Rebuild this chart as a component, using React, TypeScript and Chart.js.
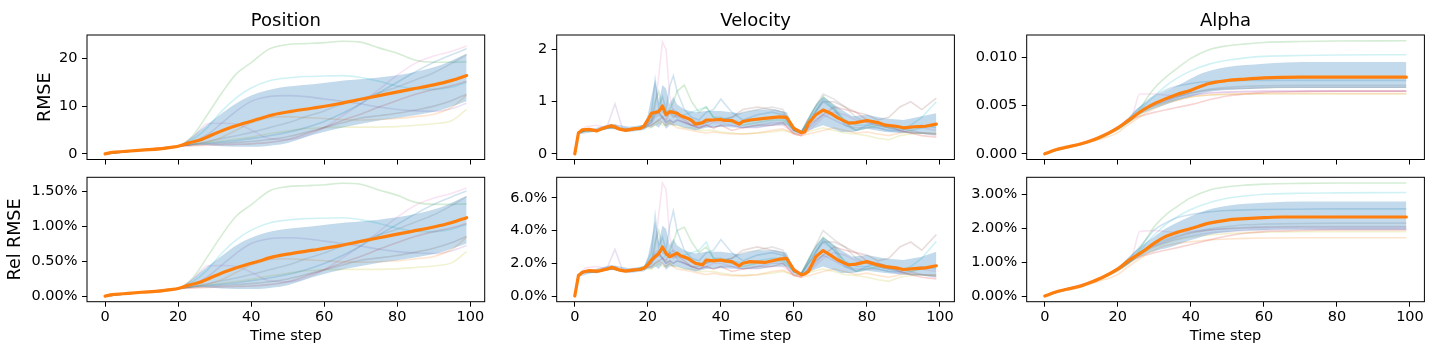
import React, { useEffect, useRef } from 'react';
import { Chart, registerables } from 'chart.js';
Chart.register(...registerables);

const FONT = "'DejaVu Sans', 'Liberation Sans', sans-serif";
// tab10 order: blue, orange, green, red, purple, brown, pink, gray, olive, cyan
const LINE_COLORS = ['31,119,180', '255,127,14', '44,160,44', '214,39,40', '148,103,189', '140,86,75', '227,119,194', '127,127,127', '188,189,34', '23,190,207'];

const X_TICKS_STEP = 20;

// ---------------- Position ----------------
const posMeanT = [0, 2, 5, 10, 15, 18, 20, 23, 26, 30, 34, 38, 42, 46, 51, 57, 64, 70, 77, 84, 90, 95, 99];
const posMean = [0, 0.3, 0.5, 0.8, 1.05, 1.35, 1.6, 2.3, 2.9, 4.2, 5.4, 6.4, 7.3, 8.2, 8.9, 9.6, 10.5, 11.45, 12.5, 13.55, 14.45, 15.4, 16.4];
const posRelMean = [0, 0.021, 0.034, 0.055, 0.072, 0.092, 0.109, 0.157, 0.198, 0.287, 0.369, 0.438, 0.499, 0.561, 0.609, 0.657, 0.718, 0.783, 0.855, 0.927, 0.988, 1.053, 1.122];
const posBandT = [0, 10, 20, 23, 26, 30, 34, 38, 42, 46, 50, 57, 66, 75, 84, 92, 99];
const posBandHi = [0, 0.85, 1.7, 3.0, 5.0, 7.3, 9.6, 11.5, 12.8, 13.6, 14.1, 14.6, 15.4, 16.0, 17.0, 18.6, 21.0];
const posBandLo = [0, 0.75, 1.5, 1.7, 1.9, 1.7, 1.55, 1.5, 1.5, 1.8, 2.3, 4.0, 5.7, 7.0, 8.0, 9.2, 11.0];
const posRelBandHi = [0, 0.058, 0.116, 0.205, 0.342, 0.499, 0.657, 0.787, 0.876, 0.930, 0.964, 0.999, 1.053, 1.094, 1.163, 1.272, 1.436];
const posRelBandLo = [0, 0.051, 0.103, 0.116, 0.130, 0.116, 0.106, 0.103, 0.103, 0.123, 0.157, 0.274, 0.390, 0.479, 0.547, 0.629, 0.752];
const posLineT = [0, 10, 20, 24, 28, 32, 36, 40, 45, 50, 55, 60, 65, 70, 75, 80, 85, 90, 95, 99];
const posLines = [
  [0, .8, 1.6, 2, 2.2, 2.5, 2.8, 3.2, 3.8, 4.5, 5.5, 6.8, 8.5, 10.5, 12.8, 15, 17.2, 19.2, 20.8, 22],
  [0, .8, 1.6, 2, 2.5, 3.5, 5, 6.5, 7.6, 7.8, 7.6, 7.4, 7.2, 7.1, 7.2, 7.4, 7.8, 8.3, 9.8, 12.3],
  [0, .8, 1.6, 3.8, 8.2, 12.8, 16.8, 19.1, 22, 22.9, 23.1, 23.3, 23.6, 23.4, 22.2, 21.1, 19.6, 19.2, 19.2, 19.3],
  [0, .8, 1.6, 1.7, 1.8, 1.9, 2, 2.1, 2.4, 3, 4.2, 5.5, 7, 8.3, 9.8, 11.2, 12.5, 13.5, 14.3, 15.2],
  [0, .8, 1.6, 2.5, 4, 6.5, 9, 11, 12, 12.2, 12, 11.5, 11, 10.5, 9.8, 9.3, 9, 8.9, 9.5, 10.6],
  [0, .8, 1.6, 1.8, 2, 2.2, 2.4, 2.6, 3, 3.6, 4.5, 5.5, 6.5, 7.5, 8, 8.5, 9.2, 10, 11.2, 12.5],
  [0, .8, 1.6, 3.5, 6.3, 6.4, 6.2, 5, 3.2, 3, 3.8, 5.5, 8, 10.5, 13.5, 16.5, 19, 20.5, 21.5, 22.6],
  [0, .8, 1.6, 2, 2.6, 3.2, 3.8, 4.5, 5.5, 6.5, 7.8, 9, 10.5, 11.5, 12.8, 14, 15.5, 17, 19, 20.8],
  [0, .8, 1.6, 2, 2.3, 2.7, 3.1, 3.5, 4.2, 4.8, 5.3, 5.5, 5.6, 5.6, 5.6, 5.7, 6, 6.3, 7, 9.3],
  [0, .8, 1.6, 3, 5.5, 9, 11.8, 13.8, 15.3, 15.9, 16.2, 16.3, 16.4, 16, 15.2, 14.2, 13.6, 13.5, 14, 15],
];
const posRelLines = [
  [0, .055, .109, .137, .15, .171, .192, .219, .26, .308, .376, .465, .581, .718, .876, 1.026, 1.176, 1.313, 1.423, 1.505],
  [0, .055, .109, .137, .171, .239, .342, .445, .52, .534, .52, .506, .492, .486, .492, .506, .534, .568, .67, .841],
  [0, .055, .109, .26, .561, .876, 1.149, 1.306, 1.505, 1.566, 1.58, 1.594, 1.614, 1.601, 1.518, 1.443, 1.341, 1.313, 1.313, 1.32],
  [0, .055, .109, .116, .123, .13, .137, .144, .164, .205, .287, .376, .479, .568, .67, .766, .855, .923, .978, 1.04],
  [0, .055, .109, .171, .274, .445, .616, .752, .821, .834, .821, .787, .752, .718, .67, .636, .616, .609, .65, .725],
  [0, .055, .109, .123, .137, .15, .164, .178, .205, .246, .308, .376, .445, .513, .547, .581, .629, .684, .766, .855],
  [0, .055, .109, .239, .431, .438, .424, .342, .219, .205, .26, .376, .547, .718, .923, 1.129, 1.3, 1.402, 1.471, 1.546],
  [0, .055, .109, .137, .178, .219, .26, .308, .376, .445, .534, .616, .718, .787, .876, .958, 1.06, 1.163, 1.3, 1.423],
  [0, .055, .109, .137, .157, .185, .212, .239, .287, .328, .363, .376, .383, .383, .383, .39, .41, .431, .479, .636],
  [0, .055, .109, .205, .376, .616, .807, .944, 1.047, 1.088, 1.108, 1.115, 1.122, 1.094, 1.04, .971, .93, .923, .958, 1.026],
];

// ---------------- Velocity ----------------
const velMeanT = [0, 1, 2, 4, 6, 7, 9, 10, 12, 14, 16, 18, 19, 20, 21, 23, 24, 25, 26, 28, 29, 31, 32, 33, 35, 36, 38, 40, 41, 43, 45, 46, 48, 52, 56, 58, 60, 62, 63, 64, 66, 68, 70, 72, 75, 77, 80, 83, 85, 88, 90, 93, 96, 99];
const velMean = [0, 0.40, 0.46, 0.47, 0.44, 0.47, 0.52, 0.54, 0.48, 0.45, 0.48, 0.49, 0.54, 0.65, 0.78, 0.81, 0.92, 0.75, 0.81, 0.78, 0.73, 0.68, 0.64, 0.57, 0.60, 0.65, 0.65, 0.66, 0.64, 0.64, 0.57, 0.62, 0.65, 0.68, 0.71, 0.70, 0.49, 0.41, 0.42, 0.59, 0.75, 0.84, 0.78, 0.69, 0.59, 0.60, 0.64, 0.60, 0.55, 0.53, 0.50, 0.52, 0.53, 0.57];
const velRelMean = [0, 1.24, 1.45, 1.55, 1.52, 1.55, 1.65, 1.75, 1.6, 1.52, 1.6, 1.62, 1.72, 1.9, 2.2, 2.6, 3.0, 2.6, 2.4, 2.62, 2.46, 2.3, 2.15, 2.0, 1.9, 2.2, 2.15, 2.2, 2.15, 2.1, 1.84, 2.0, 2.1, 2.05, 2.25, 2.3, 1.6, 1.3, 1.35, 1.5, 2.4, 2.78, 2.5, 2.2, 1.9, 1.95, 2.1, 1.9, 1.8, 1.72, 1.62, 1.68, 1.72, 1.85];
const velBandT = [0, 1, 5, 10, 15, 19, 20, 21, 22, 23, 24, 25, 26, 27, 28, 30, 33, 36, 40, 45, 50, 55, 58, 60, 62, 64, 66, 68, 70, 73, 76, 80, 85, 90, 95, 99];
const velBandHi = [0, 0.43, 0.48, 0.58, 0.52, 0.56, 0.75, 1.1, 1.42, 1.0, 1.32, 1.25, 0.95, 1.1, 0.95, 0.85, 0.8, 0.82, 0.82, 0.78, 0.85, 0.85, 0.8, 0.52, 0.45, 0.7, 0.95, 1.1, 1.0, 0.85, 0.72, 0.75, 0.68, 0.65, 0.72, 0.78];
const velBandLo = [0, 0.37, 0.42, 0.48, 0.42, 0.46, 0.52, 0.5, 0.55, 0.5, 0.6, 0.48, 0.55, 0.55, 0.55, 0.5, 0.45, 0.5, 0.52, 0.5, 0.5, 0.55, 0.55, 0.42, 0.38, 0.45, 0.5, 0.55, 0.5, 0.42, 0.42, 0.48, 0.42, 0.4, 0.38, 0.36];
const velRelBandHi = [0, 1.32, 1.62, 1.9, 1.7, 1.82, 2.4, 3.4, 4.6, 3.3, 4.3, 4.1, 3.1, 3.5, 3.1, 2.8, 2.6, 2.7, 2.7, 2.55, 2.8, 2.8, 2.65, 1.7, 1.45, 2.3, 3.1, 3.6, 3.3, 2.8, 2.4, 2.5, 2.3, 2.2, 2.4, 2.7];
const velRelBandLo = [0, 1.18, 1.42, 1.6, 1.4, 1.52, 1.7, 1.65, 1.8, 1.65, 1.95, 1.6, 1.8, 1.8, 1.8, 1.65, 1.5, 1.65, 1.7, 1.65, 1.65, 1.8, 1.8, 1.38, 1.22, 1.45, 1.65, 1.8, 1.65, 1.4, 1.4, 1.55, 1.4, 1.3, 1.25, 1.15];
const velLineT = [0, 1, 3, 6, 9, 11, 13, 16, 19, 21, 22, 23, 24, 25, 26, 27, 28, 30, 32, 34, 36, 38, 40, 43, 46, 50, 54, 57, 60, 62, 65, 68, 71, 74, 77, 80, 83, 86, 89, 92, 95, 99];
const velLines = [
  [0, .40, .45, .44, .50, .50, .46, .47, .52, .80, 1.42, .90, 1.1, .85, 1.3, 1.5, 1.2, .85, .70, .65, .80, .85, 1.05, .80, .65, .75, .80, .75, .45, .40, .70, 1.05, .85, .55, .45, .55, .60, .55, .50, .50, .55, .50],
  [0, .40, .45, .44, .50, .52, .46, .47, .52, .55, .60, .65, .60, .55, .60, .55, .50, .48, .45, .42, .40, .42, .40, .38, .38, .40, .45, .48, .38, .35, .40, .45, .50, .45, .40, .42, .38, .35, .40, .42, .40, .38],
  [0, .40, .45, .45, .50, .52, .46, .48, .55, .65, 1.0, 1.2, .85, .80, .85, 1.0, 1.2, 1.32, 1.0, .80, .90, .70, .65, .60, .55, .60, .65, .65, .45, .40, .80, 1.1, .90, .60, .45, .50, .55, .50, .50, .45, .50, .55],
  [0, .40, .46, .46, .52, .55, .46, .48, .52, .65, .75, .80, .70, .65, .80, .70, .75, .65, .55, .50, .55, .50, .55, .45, .50, .55, .55, .60, .38, .35, .60, .75, .90, .85, .80, .65, .60, .55, .45, .40, .35, .32],
  [0, .40, .46, .45, .55, .96, .50, .47, .52, .60, .70, .75, .70, .60, .65, .60, .65, .60, .55, .50, .55, .50, .55, .55, .50, .55, .60, .60, .40, .38, .55, .75, .65, .55, .50, .50, .50, .45, .42, .45, .40, .35],
  [0, .40, .45, .43, .50, .50, .45, .46, .50, .55, .60, .65, .70, .60, .65, .60, .65, .60, .55, .55, .60, .65, .65, .70, .85, .90, .85, .80, .45, .42, .70, 1.0, 1.0, .90, .80, .75, .65, .70, .90, 1.0, .85, 1.07],
  [0, .40, .52, .55, .50, .55, .45, .47, .50, .60, .90, 1.5, 2.15, 2.0, 1.1, .80, .70, .60, .55, .50, .55, .60, .60, .55, .50, .50, .55, .55, .40, .35, .50, .70, .80, .75, .65, .60, .55, .50, .45, .50, .50, .45],
  [0, .40, .46, .44, .52, .52, .46, .48, .54, .70, .80, .85, .80, .75, .80, .85, .80, .70, .65, .60, .60, .65, .65, .70, .80, .85, .90, .85, .45, .42, .80, 1.15, 1.05, .90, .70, .60, .55, .50, .45, .40, .40, .38],
  [0, .40, .45, .44, .50, .50, .45, .47, .50, .50, .55, .60, .55, .55, .60, .55, .55, .50, .50, .45, .45, .45, .42, .40, .38, .40, .42, .45, .40, .40, .45, .50, .45, .40, .38, .35, .30, .27, .35, .38, .40, .40],
  [0, .40, .45, .44, .50, .50, .45, .47, .50, .60, .75, .80, .70, .75, .80, .75, .70, .75, .80, .85, .90, .70, .70, .65, .60, .65, .70, .70, .45, .40, .75, 1.0, .85, .65, .55, .55, .50, .45, .45, .55, .70, 1.0],
];
const velRelLines = [
  [0, 1.3, 1.5, 1.45, 1.65, 1.65, 1.52, 1.55, 1.72, 2.65, 4.9, 3.0, 3.6, 2.8, 4.3, 5.2, 4.0, 2.8, 2.3, 2.15, 2.65, 2.8, 3.45, 2.65, 2.15, 2.5, 2.65, 2.5, 1.5, 1.3, 2.3, 3.45, 2.8, 1.8, 1.5, 1.8, 2.0, 1.8, 1.65, 1.65, 1.8, 1.65],
  [0, 1.3, 1.5, 1.45, 1.65, 1.72, 1.52, 1.55, 1.72, 1.8, 2.0, 2.15, 2.0, 1.8, 2.0, 1.8, 1.65, 1.58, 1.5, 1.4, 1.3, 1.4, 1.3, 1.25, 1.25, 1.3, 1.5, 1.58, 1.25, 1.15, 1.3, 1.5, 1.65, 1.5, 1.3, 1.4, 1.25, 1.15, 1.3, 1.4, 1.3, 1.25],
  [0, 1.3, 1.5, 1.5, 1.65, 1.72, 1.52, 1.58, 1.8, 2.15, 3.3, 4.0, 2.8, 2.65, 2.8, 3.3, 4.0, 4.2, 3.3, 2.65, 3.0, 2.3, 2.15, 2.0, 1.8, 2.0, 2.15, 2.15, 1.5, 1.3, 2.65, 3.6, 3.0, 2.0, 1.5, 1.65, 1.8, 1.65, 1.65, 1.5, 1.65, 1.8],
  [0, 1.3, 1.52, 1.52, 1.72, 1.8, 1.52, 1.58, 1.72, 2.15, 2.5, 2.65, 2.3, 2.15, 2.65, 2.3, 2.5, 2.15, 1.8, 1.65, 1.8, 1.65, 1.8, 1.5, 1.65, 1.8, 1.8, 2.0, 1.25, 1.15, 2.0, 2.5, 3.0, 2.8, 2.65, 2.15, 2.0, 1.8, 1.5, 1.3, 1.15, 1.05],
  [0, 1.3, 1.52, 1.5, 1.8, 2.85, 1.65, 1.55, 1.72, 2.0, 2.3, 2.5, 2.3, 2.0, 2.15, 2.0, 2.15, 2.0, 1.8, 1.65, 1.8, 1.65, 1.8, 1.8, 1.65, 1.8, 2.0, 2.0, 1.3, 1.25, 1.8, 2.5, 2.15, 1.8, 1.65, 1.65, 1.65, 1.5, 1.4, 1.5, 1.3, 1.15],
  [0, 1.3, 1.5, 1.42, 1.65, 1.65, 1.5, 1.52, 1.65, 1.8, 2.0, 2.15, 2.3, 2.0, 2.15, 2.0, 2.15, 2.0, 1.8, 1.8, 2.0, 2.15, 2.15, 2.3, 2.8, 3.0, 2.8, 2.65, 1.5, 1.4, 2.3, 3.3, 3.3, 3.0, 2.65, 2.5, 2.15, 2.3, 3.0, 3.3, 2.8, 3.75],
  [0, 1.3, 1.72, 1.8, 1.65, 1.8, 1.5, 1.55, 1.65, 2.0, 3.0, 5.0, 6.9, 6.5, 3.6, 2.65, 2.3, 2.0, 1.8, 1.65, 1.8, 2.0, 2.0, 1.8, 1.65, 1.65, 1.8, 1.8, 1.3, 1.15, 1.65, 2.3, 2.65, 2.5, 2.15, 2.0, 1.8, 1.65, 1.5, 1.65, 1.65, 1.5],
  [0, 1.3, 1.52, 1.45, 1.72, 1.72, 1.52, 1.58, 1.78, 2.3, 2.65, 2.8, 2.65, 2.5, 2.65, 2.8, 2.65, 2.3, 2.15, 2.0, 2.0, 2.15, 2.15, 2.3, 2.65, 2.8, 3.0, 2.8, 1.5, 1.4, 2.65, 4.0, 3.45, 3.0, 2.3, 2.0, 1.8, 1.65, 1.5, 1.3, 1.3, 1.25],
  [0, 1.3, 1.5, 1.45, 1.65, 1.65, 1.5, 1.55, 1.65, 1.65, 1.8, 2.0, 1.8, 1.8, 2.0, 1.8, 1.8, 1.65, 1.65, 1.5, 1.5, 1.5, 1.4, 1.3, 1.25, 1.3, 1.4, 1.5, 1.3, 1.3, 1.5, 1.65, 1.5, 1.3, 1.25, 1.15, 1.0, 0.9, 1.15, 1.25, 1.3, 1.3],
  [0, 1.3, 1.5, 1.45, 1.65, 1.65, 1.5, 1.55, 1.65, 2.0, 2.5, 2.65, 2.3, 2.5, 2.65, 2.5, 2.3, 2.5, 2.65, 2.8, 3.3, 2.3, 2.3, 2.15, 2.0, 2.15, 2.3, 2.3, 1.5, 1.3, 2.5, 3.3, 2.8, 2.15, 1.8, 1.8, 1.65, 1.5, 1.5, 1.8, 2.3, 3.35],
];

// ---------------- Alpha ----------------
const alphaMeanT = [0, 3, 6, 10, 13, 16, 20, 23, 27, 30, 33, 36, 40, 45, 50, 55, 60, 65, 70, 80, 90, 99];
const alphaMean = [0, 0.42e-3, 0.7e-3, 1.05e-3, 1.4e-3, 1.87e-3, 2.7e-3, 3.5e-3, 4.57e-3, 5.2e-3, 5.7e-3, 6.13e-3, 6.6e-3, 7.3e-3, 7.6e-3, 7.75e-3, 7.87e-3, 7.93e-3, 7.95e-3, 7.95e-3, 7.95e-3, 7.95e-3];
const alphaRelMean = [0, 0.12, 0.2, 0.3, 0.42, 0.56, 0.8, 1.05, 1.32, 1.56, 1.75, 1.87, 1.99, 2.15, 2.24, 2.28, 2.31, 2.33, 2.33, 2.33, 2.33, 2.33];
const alphaBandT = [0, 10, 20, 23, 25, 28, 30, 33, 36, 40, 43, 46, 50, 55, 60, 66, 75, 99];
const alphaBandHi = [0, 1.1e-3, 2.8e-3, 3.8e-3, 4.6e-3, 5.4e-3, 5.95e-3, 6.5e-3, 7.0e-3, 7.8e-3, 8.35e-3, 8.7e-3, 9.0e-3, 9.2e-3, 9.35e-3, 9.48e-3, 9.52e-3, 9.52e-3];
const alphaBandLo = [0, 1.0e-3, 2.6e-3, 3.3e-3, 3.9e-3, 4.4e-3, 4.7e-3, 5.1e-3, 5.5e-3, 5.95e-3, 6.25e-3, 6.5e-3, 6.62e-3, 6.7e-3, 6.78e-3, 6.82e-3, 6.82e-3, 6.82e-3];
const alphaRelBandHi = [0, 0.33, 0.85, 1.15, 1.35, 1.6, 1.75, 1.98, 2.15, 2.35, 2.48, 2.58, 2.66, 2.72, 2.75, 2.78, 2.79, 2.79];
const alphaRelBandLo = [0, 0.28, 0.75, 0.95, 1.1, 1.25, 1.32, 1.4, 1.5, 1.65, 1.75, 1.83, 1.89, 1.93, 1.95, 1.96, 1.96, 1.96];
const alphaLineT = [0, 5, 10, 15, 20, 22, 24, 26, 28, 30, 33, 36, 40, 45, 50, 55, 60, 70, 80, 99];
const alphaLines = [
  [0, .6e-3, 1.05e-3, 1.7e-3, 2.7e-3, 3.3e-3, 4.0e-3, 4.8e-3, 5.5e-3, 6.0e-3, 6.6e-3, 7.0e-3, 7.3e-3, 7.5e-3, 7.55e-3, 7.6e-3, 7.62e-3, 7.62e-3, 7.62e-3, 7.62e-3],
  [0, .55e-3, 1.0e-3, 1.5e-3, 2.2e-3, 2.8e-3, 3.3e-3, 3.8e-3, 4.3e-3, 4.7e-3, 5.2e-3, 5.5e-3, 5.9e-3, 6.1e-3, 6.2e-3, 6.25e-3, 6.25e-3, 6.25e-3, 6.25e-3, 6.25e-3],
  [0, .6e-3, 1.05e-3, 1.7e-3, 2.6e-3, 3.1e-3, 3.6e-3, 4.6e-3, 5.8e-3, 6.8e-3, 7.9e-3, 8.8e-3, 9.9e-3, 10.8e-3, 11.2e-3, 11.4e-3, 11.55e-3, 11.65e-3, 11.7e-3, 11.72e-3],
  [0, .6e-3, 1.0e-3, 1.7e-3, 2.6e-3, 3.1e-3, 3.6e-3, 3.9e-3, 4.1e-3, 4.3e-3, 4.55e-3, 4.8e-3, 5.1e-3, 5.6e-3, 6.0e-3, 6.2e-3, 6.35e-3, 6.45e-3, 6.5e-3, 6.5e-3],
  [0, .65e-3, 1.1e-3, 1.8e-3, 2.8e-3, 3.3e-3, 3.8e-3, 4.3e-3, 4.7e-3, 5.0e-3, 5.4e-3, 5.7e-3, 6.0e-3, 6.3e-3, 6.4e-3, 6.45e-3, 6.48e-3, 6.5e-3, 6.5e-3, 6.5e-3],
  [0, .6e-3, 1.0e-3, 1.7e-3, 2.6e-3, 3.1e-3, 3.6e-3, 4.2e-3, 4.7e-3, 5.1e-3, 5.5e-3, 5.9e-3, 6.3e-3, 6.6e-3, 6.75e-3, 6.8e-3, 6.85e-3, 6.9e-3, 6.9e-3, 6.9e-3],
  [0, .6e-3, 1.1e-3, 1.8e-3, 2.8e-3, 3.4e-3, 4.0e-3, 6.2e-3, 6.2e-3, 6.2e-3, 6.1e-3, 6.0e-3, 6.1e-3, 6.3e-3, 6.4e-3, 6.45e-3, 6.5e-3, 6.5e-3, 6.5e-3, 6.5e-3],
  [0, .6e-3, 1.05e-3, 1.7e-3, 2.7e-3, 3.2e-3, 3.7e-3, 4.3e-3, 4.8e-3, 5.2e-3, 5.6e-3, 5.9e-3, 6.3e-3, 6.7e-3, 6.9e-3, 7.0e-3, 7.05e-3, 7.1e-3, 7.1e-3, 7.1e-3],
  [0, .6e-3, 1.0e-3, 1.6e-3, 2.5e-3, 3.0e-3, 3.5e-3, 4.0e-3, 4.5e-3, 4.9e-3, 5.3e-3, 5.6e-3, 5.9e-3, 6.1e-3, 6.15e-3, 6.2e-3, 6.2e-3, 6.2e-3, 6.2e-3, 6.2e-3],
  [0, .6e-3, 1.0e-3, 1.6e-3, 2.5e-3, 3.0e-3, 3.7e-3, 4.4e-3, 5.3e-3, 6.0e-3, 7.0e-3, 7.8e-3, 8.6e-3, 9.3e-3, 9.7e-3, 9.95e-3, 10.1e-3, 10.2e-3, 10.25e-3, 10.28e-3],
];
const alphaRelLines = [
  [0, .18, .32, .5, .8, 1.0, 1.2, 1.45, 1.7, 1.95, 2.15, 2.3, 2.4, 2.48, 2.52, 2.54, 2.55, 2.56, 2.57, 2.57],
  [0, .16, .29, .44, .64, .8, .95, 1.1, 1.25, 1.36, 1.48, 1.55, 1.6, 1.65, 1.68, 1.7, 1.71, 1.72, 1.72, 1.72],
  [0, .18, .3, .5, .78, .92, 1.08, 1.38, 1.72, 2.05, 2.38, 2.62, 2.9, 3.12, 3.22, 3.27, 3.3, 3.32, 3.33, 3.33],
  [0, .18, .3, .5, .76, .9, 1.05, 1.15, 1.22, 1.28, 1.35, 1.42, 1.52, 1.65, 1.77, 1.85, 1.9, 1.93, 1.95, 1.95],
  [0, .19, .33, .53, .82, .98, 1.12, 1.27, 1.38, 1.47, 1.58, 1.68, 1.77, 1.86, 1.9, 1.93, 1.95, 1.97, 1.98, 1.98],
  [0, .18, .3, .5, .77, .92, 1.07, 1.24, 1.39, 1.5, 1.62, 1.73, 1.85, 1.94, 1.99, 2.02, 2.04, 2.05, 2.05, 2.05],
  [0, .18, .32, .52, .82, 1.0, 1.2, 1.9, 1.92, 1.93, 1.9, 1.88, 1.9, 1.95, 1.98, 2.0, 2.01, 2.02, 2.02, 2.02],
  [0, .18, .31, .5, .78, .95, 1.1, 1.28, 1.42, 1.55, 1.67, 1.77, 1.88, 1.98, 2.05, 2.1, 2.12, 2.14, 2.15, 2.15],
  [0, .18, .3, .48, .74, .88, 1.03, 1.18, 1.32, 1.44, 1.56, 1.65, 1.74, 1.8, 1.84, 1.87, 1.88, 1.9, 1.9, 1.9],
  [0, .18, .3, .48, .75, .9, 1.1, 1.3, 1.58, 1.8, 2.1, 2.32, 2.55, 2.75, 2.88, 2.95, 3.0, 3.03, 3.04, 3.05],
];

// ---------------- layout ----------------
const COL_LEFT = [87, 556.7, 1026.7];
const PLOT_W = 397.7;
const ROW_TOP = [35, 177.3];
const PLOT_H = [124.5, 124.4];
const CANVAS_TOP = [0, 172];
const CANVAS_H = [172, 190];
const Y_AXIS_W = 87;

type Panel = {
  col: number; row: number; title?: string; ylabel?: string;
  meanT: number[]; mean: number[];
  bandT: number[]; hi: number[]; lo: number[];
  lineT: number[]; lines: number[][];
  yMin: number; yMax: number; step: number; fmt: (v: number) => string; smooth: boolean;
};

const PANELS: Panel[] = [
  { col: 0, row: 0, title: 'Position', ylabel: 'RMSE', meanT: posMeanT, mean: posMean, bandT: posBandT, hi: posBandHi, lo: posBandLo, lineT: posLineT, lines: posLines, yMin: -1.18, yMax: 24.9, step: 10, fmt: (v) => v.toFixed(0), smooth: true },
  { col: 1, row: 0, title: 'Velocity', meanT: velMeanT, mean: velMean, bandT: velBandT, hi: velBandHi, lo: velBandLo, lineT: velLineT, lines: velLines, yMin: -0.108, yMax: 2.28, step: 1, fmt: (v) => v.toFixed(0), smooth: false },
  { col: 2, row: 0, title: 'Alpha', meanT: alphaMeanT, mean: alphaMean, bandT: alphaBandT, hi: alphaBandHi, lo: alphaBandLo, lineT: alphaLineT, lines: alphaLines, yMin: -0.000586, yMax: 0.01232, step: 0.005, fmt: (v) => v.toFixed(3), smooth: true },
  { col: 0, row: 1, ylabel: 'Rel RMSE', meanT: posMeanT, mean: posRelMean, bandT: posBandT, hi: posRelBandHi, lo: posRelBandLo, lineT: posLineT, lines: posRelLines, yMin: -0.08, yMax: 1.70, step: 0.5, fmt: (v) => v.toFixed(2) + '%', smooth: true },
  { col: 1, row: 1, meanT: velMeanT, mean: velRelMean, bandT: velBandT, hi: velRelBandHi, lo: velRelBandLo, lineT: velLineT, lines: velRelLines, yMin: -0.345, yMax: 7.25, step: 2, fmt: (v) => v.toFixed(1) + '%', smooth: false },
  { col: 2, row: 1, meanT: alphaMeanT, mean: alphaRelMean, bandT: alphaBandT, hi: alphaRelBandHi, lo: alphaRelBandLo, lineT: alphaLineT, lines: alphaRelLines, yMin: -0.1665, yMax: 3.5, step: 1, fmt: (v) => v.toFixed(2) + '%', smooth: true },
];

const toXY = (t: number[], v: number[]) => t.map((x, i) => ({ x, y: v[i] }));

const framePlugin = {
  id: 'frame',
  afterDatasetsDraw(chart: any) {
    const { ctx, chartArea: a } = chart;
    ctx.save();
    ctx.strokeStyle = '#000';
    ctx.lineWidth = 1;
    ctx.strokeRect(a.left, a.top, a.right - a.left, a.bottom - a.top);
    ctx.restore();
  },
};

function PanelChart({ p }: { p: Panel }) {
  const ref = useRef<HTMLCanvasElement>(null);
  const plotLeft = COL_LEFT[p.col];
  const canvasLeft = Math.round(plotLeft) - Y_AXIS_W;
  const yW = plotLeft - canvasLeft;
  const canvasW = Math.ceil(yW + PLOT_W + 8);
  const padRight = canvasW - yW - PLOT_W;
  const canvasTop = CANVAS_TOP[p.row];
  const canvasH = CANVAS_H[p.row];
  const plotTop = ROW_TOP[p.row];
  const padTop = p.row === 0 ? 0 : plotTop - canvasTop;
  const xH = canvasH - (plotTop - canvasTop) - PLOT_H[p.row];

  useEffect(() => {
    if (!ref.current) return;
    const lineOpts = p.smooth ? { cubicInterpolationMode: 'monotone' as const } : { tension: 0 };
    const datasets: any[] = [];
    datasets.push({
      data: toXY(p.meanT, p.mean), borderColor: '#ff7f0e', borderWidth: 3.2, pointRadius: 0,
      fill: false, order: 0, borderJoinStyle: 'round', borderCapStyle: 'round', ...lineOpts,
    });
    datasets.push({
      data: toXY(p.bandT, p.hi), borderColor: 'rgba(0,0,0,0)', borderWidth: 1, pointRadius: 0,
      backgroundColor: 'rgba(31,119,180,0.27)', fill: '+1', order: 1, ...lineOpts,
    });
    datasets.push({
      data: toXY(p.bandT, p.lo), borderColor: 'rgba(0,0,0,0)', borderWidth: 1, pointRadius: 0,
      fill: false, order: 2, ...lineOpts,
    });
    p.lines.forEach((v, i) => {
      datasets.push({
        data: toXY(p.lineT, v), borderColor: `rgba(${LINE_COLORS[i]},0.2)`, borderWidth: 1.6,
        pointRadius: 0, fill: false, order: 3 + i, ...lineOpts,
      });
    });

    const tickFont = { family: FONT, size: 14.5 };
    const chart = new Chart(ref.current, {
      type: 'line',
      data: { datasets },
      plugins: [framePlugin],
      options: {
        responsive: false,
        animation: false,
        events: [],
        layout: { padding: { left: 0, top: padTop, right: padRight, bottom: 0 } },
        plugins: {
          legend: { display: false },
          tooltip: { enabled: false },
          title: {
            display: !!p.title,
            text: p.title || '',
            fullSize: false,
            color: '#000',
            font: { family: FONT, size: 18, weight: 'normal' },
            padding: { top: 11, bottom: 35 - 11 - 21.6 },
          },
        },
        scales: {
          x: {
            type: 'linear',
            min: -4.95,
            max: 103.95,
            afterFit: (s: any) => { s.height = xH; s.paddingLeft = 0; s.paddingRight = 0; },
            border: { display: false },
            grid: { display: true, drawOnChartArea: false, drawTicks: true, tickLength: 5, color: '#000', lineWidth: 1 },
            ticks: {
              display: p.row === 1, stepSize: X_TICKS_STEP, includeBounds: false, autoSkip: false,
              maxRotation: 0, padding: 2, color: '#000', font: tickFont,
              callback: (v: any) => String(v),
            },
            title: {
              display: p.row === 1, text: 'Time step', color: '#000',
              font: { family: FONT, size: 14.5 }, padding: { top: 0, bottom: 16.8 },
            },
          },
          y: {
            type: 'linear',
            min: p.yMin,
            max: p.yMax,
            afterFit: (s: any) => { s.width = yW; s.paddingTop = 0; s.paddingBottom = 0; },
            border: { display: false },
            grid: { display: true, drawOnChartArea: false, drawTicks: true, tickLength: 5, color: '#000', lineWidth: 1 },
            ticks: {
              stepSize: p.step, includeBounds: false, padding: 4.5, color: '#000', font: tickFont,
              callback: (v: any) => p.fmt(Number(v)),
            },
            title: {
              display: !!p.ylabel, text: p.ylabel || '', color: '#000',
              font: { family: FONT, size: 17.5 },
              padding: { top: p.row === 0 ? 35.2 : 5.3, bottom: 0 },
            },
          },
        },
      } as any,
    });
    return () => chart.destroy();
  }, []);

  return (
    <canvas
      ref={ref}
      width={canvasW}
      height={canvasH}
      style={{ position: 'absolute', left: canvasLeft, top: canvasTop, width: canvasW, height: canvasH }}
    />
  );
}

export default function App() {
  return (
    <div style={{ position: 'absolute', left: 0, top: 0, width: 1435, height: 362, background: '#fff', overflow: 'hidden' }}>
      {PANELS.map((p, i) => <PanelChart key={i} p={p} />)}
    </div>
  );
}
